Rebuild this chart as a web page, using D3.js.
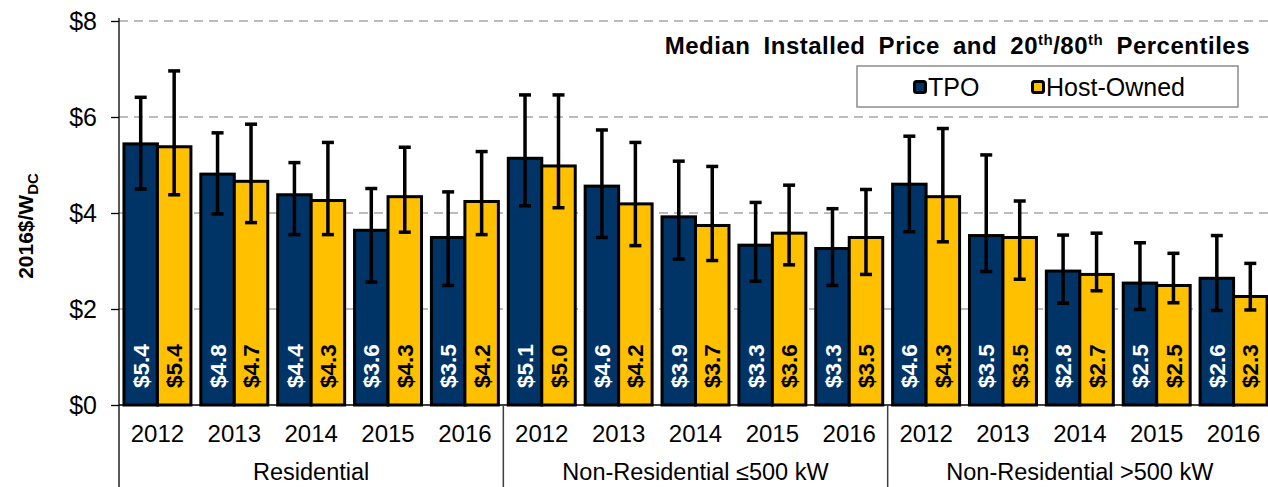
<!DOCTYPE html>
<html>
<head>
    <title>Median Installed Price and 20th/80th Percentiles</title>
    <style>
        body { margin: 0; background: #fff; }
        text { font-family: "Liberation Sans", Arial, sans-serif; }
    </style>
    <script src="https://d3js.org/d3.v7.min.js"></script>
</head>
<body>
    <div id="chart"></div>
    <script>
        // segments, years and the two series (values in 2016$/W)
        const groups = ["Residential", "Non-Residential \u2264500 kW", "Non-Residential >500 kW"];
        const years = ["2012", "2013", "2014", "2015", "2016"];
        const series = ["TPO", "Host-Owned"];

        const tpoMedian = [5.44, 4.81, 4.38, 3.64, 3.49, 5.14, 4.56, 3.92, 3.33, 3.26, 4.60, 3.53, 2.79, 2.54, 2.64];
        const tpoP20    = [4.50, 3.98, 3.55, 2.56, 2.49, 4.15, 3.49, 3.04, 2.58, 2.49, 3.61, 2.78, 2.12, 1.99, 1.97];
        const tpoP80    = [6.41, 5.67, 5.05, 4.51, 4.44, 6.46, 5.73, 5.08, 4.22, 4.09, 5.60, 5.21, 3.54, 3.38, 3.53];

        const hoMedian  = [5.38, 4.66, 4.26, 4.34, 4.24, 4.98, 4.19, 3.74, 3.58, 3.49, 4.34, 3.49, 2.72, 2.49, 2.26];
        const hoP20     = [4.38, 3.80, 3.55, 3.60, 3.55, 4.11, 3.32, 3.01, 2.92, 2.72, 3.40, 2.62, 2.38, 2.13, 1.98];
        const hoP80     = [6.96, 5.85, 5.47, 5.37, 5.28, 6.46, 5.47, 4.97, 4.58, 4.49, 5.76, 4.25, 3.58, 3.16, 2.95];

        const yTicks = [0, 2, 4, 6, 8];
        const colors = { "TPO": "#003366", "Host-Owned": "#FFC000" };
        const labelColors = { "TPO": "#fff", "Host-Owned": "#000" };

        const width = 1268, height = 487;
        const plotLeft = 119, plotRight = 1272, plotTop = 21, plotBottom = 405;

        const svg = d3.select("#chart").append("svg")
            .attr("width", width)
            .attr("height", height);

        const y = d3.scaleLinear().domain([0, 8]).range([plotBottom, plotTop]);
        const xGroup = d3.scaleBand().domain(groups).range([plotLeft, plotRight]);
        const xYear = d3.scaleBand().domain(years).range([0, xGroup.bandwidth()]);
        const xSeries = d3.scaleBand().domain(series).range([0, xYear.bandwidth()]).paddingOuter(0.148);

        // build rows from the arrays
        const rows = [];
        groups.forEach((g, gi) => {
            years.forEach((yr, yi) => {
                const i = gi * years.length + yi;
                rows.push({ group: g, year: yr, series: "TPO", median: tpoMedian[i], p20: tpoP20[i], p80: tpoP80[i] });
                rows.push({ group: g, year: yr, series: "Host-Owned", median: hoMedian[i], p20: hoP20[i], p80: hoP80[i] });
            });
        });
        const xPos = d => xGroup(d.group) + xYear(d.year) + xSeries(d.series);
        const xMid = d => xPos(d) + xSeries.bandwidth() / 2;

        // gridlines
        svg.append("g")
            .selectAll("line")
            .data(yTicks.filter(t => t > 0))
            .enter().append("line")
            .attr("x1", plotLeft).attr("x2", width)
            .attr("y1", d => y(d)).attr("y2", d => y(d))
            .attr("stroke", "#a6a6a6")
            .attr("stroke-width", 1.5)
            .attr("stroke-dasharray", "9,6");

        // y axis
        const yAxis = svg.append("g")
            .attr("transform", `translate(${plotLeft},0)`)
            .call(d3.axisLeft(y).tickValues(yTicks).tickFormat(d => "$" + d).tickSize(8).tickPadding(14));
        yAxis.select(".domain").remove();
        yAxis.selectAll(".tick line").attr("stroke", "#000").attr("stroke-width", 1.3);
        yAxis.selectAll(".tick text")
            .attr("font-size", 25)
            .attr("fill", "#000")
            .attr("font-family", "Liberation Sans, Arial, sans-serif");

        svg.append("line")
            .attr("x1", plotLeft).attr("x2", plotLeft)
            .attr("y1", plotTop - 3).attr("y2", height)
            .attr("stroke", "#000").attr("stroke-width", 1.3);

        // baseline
        svg.append("line")
            .attr("x1", plotLeft).attr("x2", width)
            .attr("y1", plotBottom).attr("y2", plotBottom)
            .attr("stroke", "#000").attr("stroke-width", 1.3);

        // group dividers
        svg.append("g")
            .selectAll("line")
            .data(groups.slice(1))
            .enter().append("line")
            .attr("x1", d => xGroup(d)).attr("x2", d => xGroup(d))
            .attr("y1", plotBottom).attr("y2", height)
            .attr("stroke", "#404040").attr("stroke-width", 1.5);

        // bars
        svg.append("g")
            .selectAll("rect")
            .data(rows)
            .enter().append("rect")
            .attr("x", d => xPos(d))
            .attr("width", xSeries.bandwidth())
            .attr("y", d => y(d.median))
            .attr("height", d => y(0) - y(d.median))
            .attr("fill", d => colors[d.series])
            .attr("stroke", "#000")
            .attr("stroke-width", 3);

        // error bars
        const err = svg.append("g")
            .selectAll("g")
            .data(rows)
            .enter().append("g")
            .attr("stroke", "#000")
            .attr("stroke-width", 3.5);
        err.append("line")
            .attr("x1", xMid).attr("x2", xMid)
            .attr("y1", d => y(d.p20)).attr("y2", d => y(d.p80));
        err.append("line")
            .attr("x1", d => xMid(d) - 6).attr("x2", d => xMid(d) + 6)
            .attr("y1", d => y(d.p80)).attr("y2", d => y(d.p80));
        err.append("line")
            .attr("x1", d => xMid(d) - 6).attr("x2", d => xMid(d) + 6)
            .attr("y1", d => y(d.p20)).attr("y2", d => y(d.p20));

        // value labels
        svg.append("g")
            .selectAll("text")
            .data(rows)
            .enter().append("text")
            .attr("transform", d => `translate(${xMid(d)},${plotBottom - 17}) rotate(-90)`)
            .attr("dy", "0.36em")
            .attr("font-size", 22.5)
            .attr("font-weight", "bold")
            .attr("fill", d => labelColors[d.series])
            .text(d => "$" + d3.format(".1f")(d.median));

        // year labels
        svg.append("g")
            .selectAll("text")
            .data(rows.filter(d => d.series === "TPO"))
            .enter().append("text")
            .attr("x", d => xGroup(d.group) + xYear(d.year) + xYear.bandwidth() / 2)
            .attr("y", 442)
            .attr("text-anchor", "middle")
            .attr("font-size", 24)
            .text(d => d.year);

        // group labels
        svg.append("g")
            .selectAll("text")
            .data(groups)
            .enter().append("text")
            .attr("x", d => xGroup(d) + xGroup.bandwidth() / 2)
            .attr("y", 480)
            .attr("text-anchor", "middle")
            .attr("font-size", 23.5)
            .text(d => d);

        // y axis title
        const yt = svg.append("text")
            .attr("transform", "translate(33,226) rotate(-90)")
            .attr("text-anchor", "middle")
            .attr("font-size", 21)
            .attr("font-weight", "bold");
        yt.append("tspan").text("2016$/W");
        yt.append("tspan").attr("font-size", 15).attr("dy", 5).text("DC");

        // title
        const title = svg.append("text")
            .attr("x", 1250)
            .attr("y", 54)
            .attr("text-anchor", "end")
            .attr("font-size", 24)
            .attr("font-weight", "bold")
            .attr("letter-spacing", 0.5)
            .attr("word-spacing", 6);
        title.append("tspan").text("Median Installed Price and 20");
        title.append("tspan").attr("font-size", 15).attr("dy", -9).text("th");
        title.append("tspan").attr("dy", 9).text("/80");
        title.append("tspan").attr("font-size", 15).attr("dy", -9).text("th");
        title.append("tspan").attr("dy", 9).text(" Percentiles");

        // legend
        const legend = svg.append("g");
        legend.append("rect")
            .attr("x", 857).attr("y", 66)
            .attr("width", 381).attr("height", 41)
            .attr("fill", "#fff")
            .attr("stroke", "#8c8c8c")
            .attr("stroke-width", 1.5);
        const legendX = { "TPO": 913, "Host-Owned": 1031 };
        const li = legend.selectAll("g.item")
            .data(series)
            .enter().append("g")
            .attr("class", "item")
            .attr("transform", d => `translate(${legendX[d]},80)`);
        li.append("rect")
            .attr("x", 1.5).attr("y", 1.5)
            .attr("width", 11).attr("height", 11)
            .attr("rx", 2)
            .attr("fill", d => colors[d])
            .attr("stroke", "#000")
            .attr("stroke-width", 3);
        li.append("text")
            .attr("x", 15).attr("y", 16)
            .attr("font-size", 25)
            .text(d => d);
    </script>
</body>
</html>
